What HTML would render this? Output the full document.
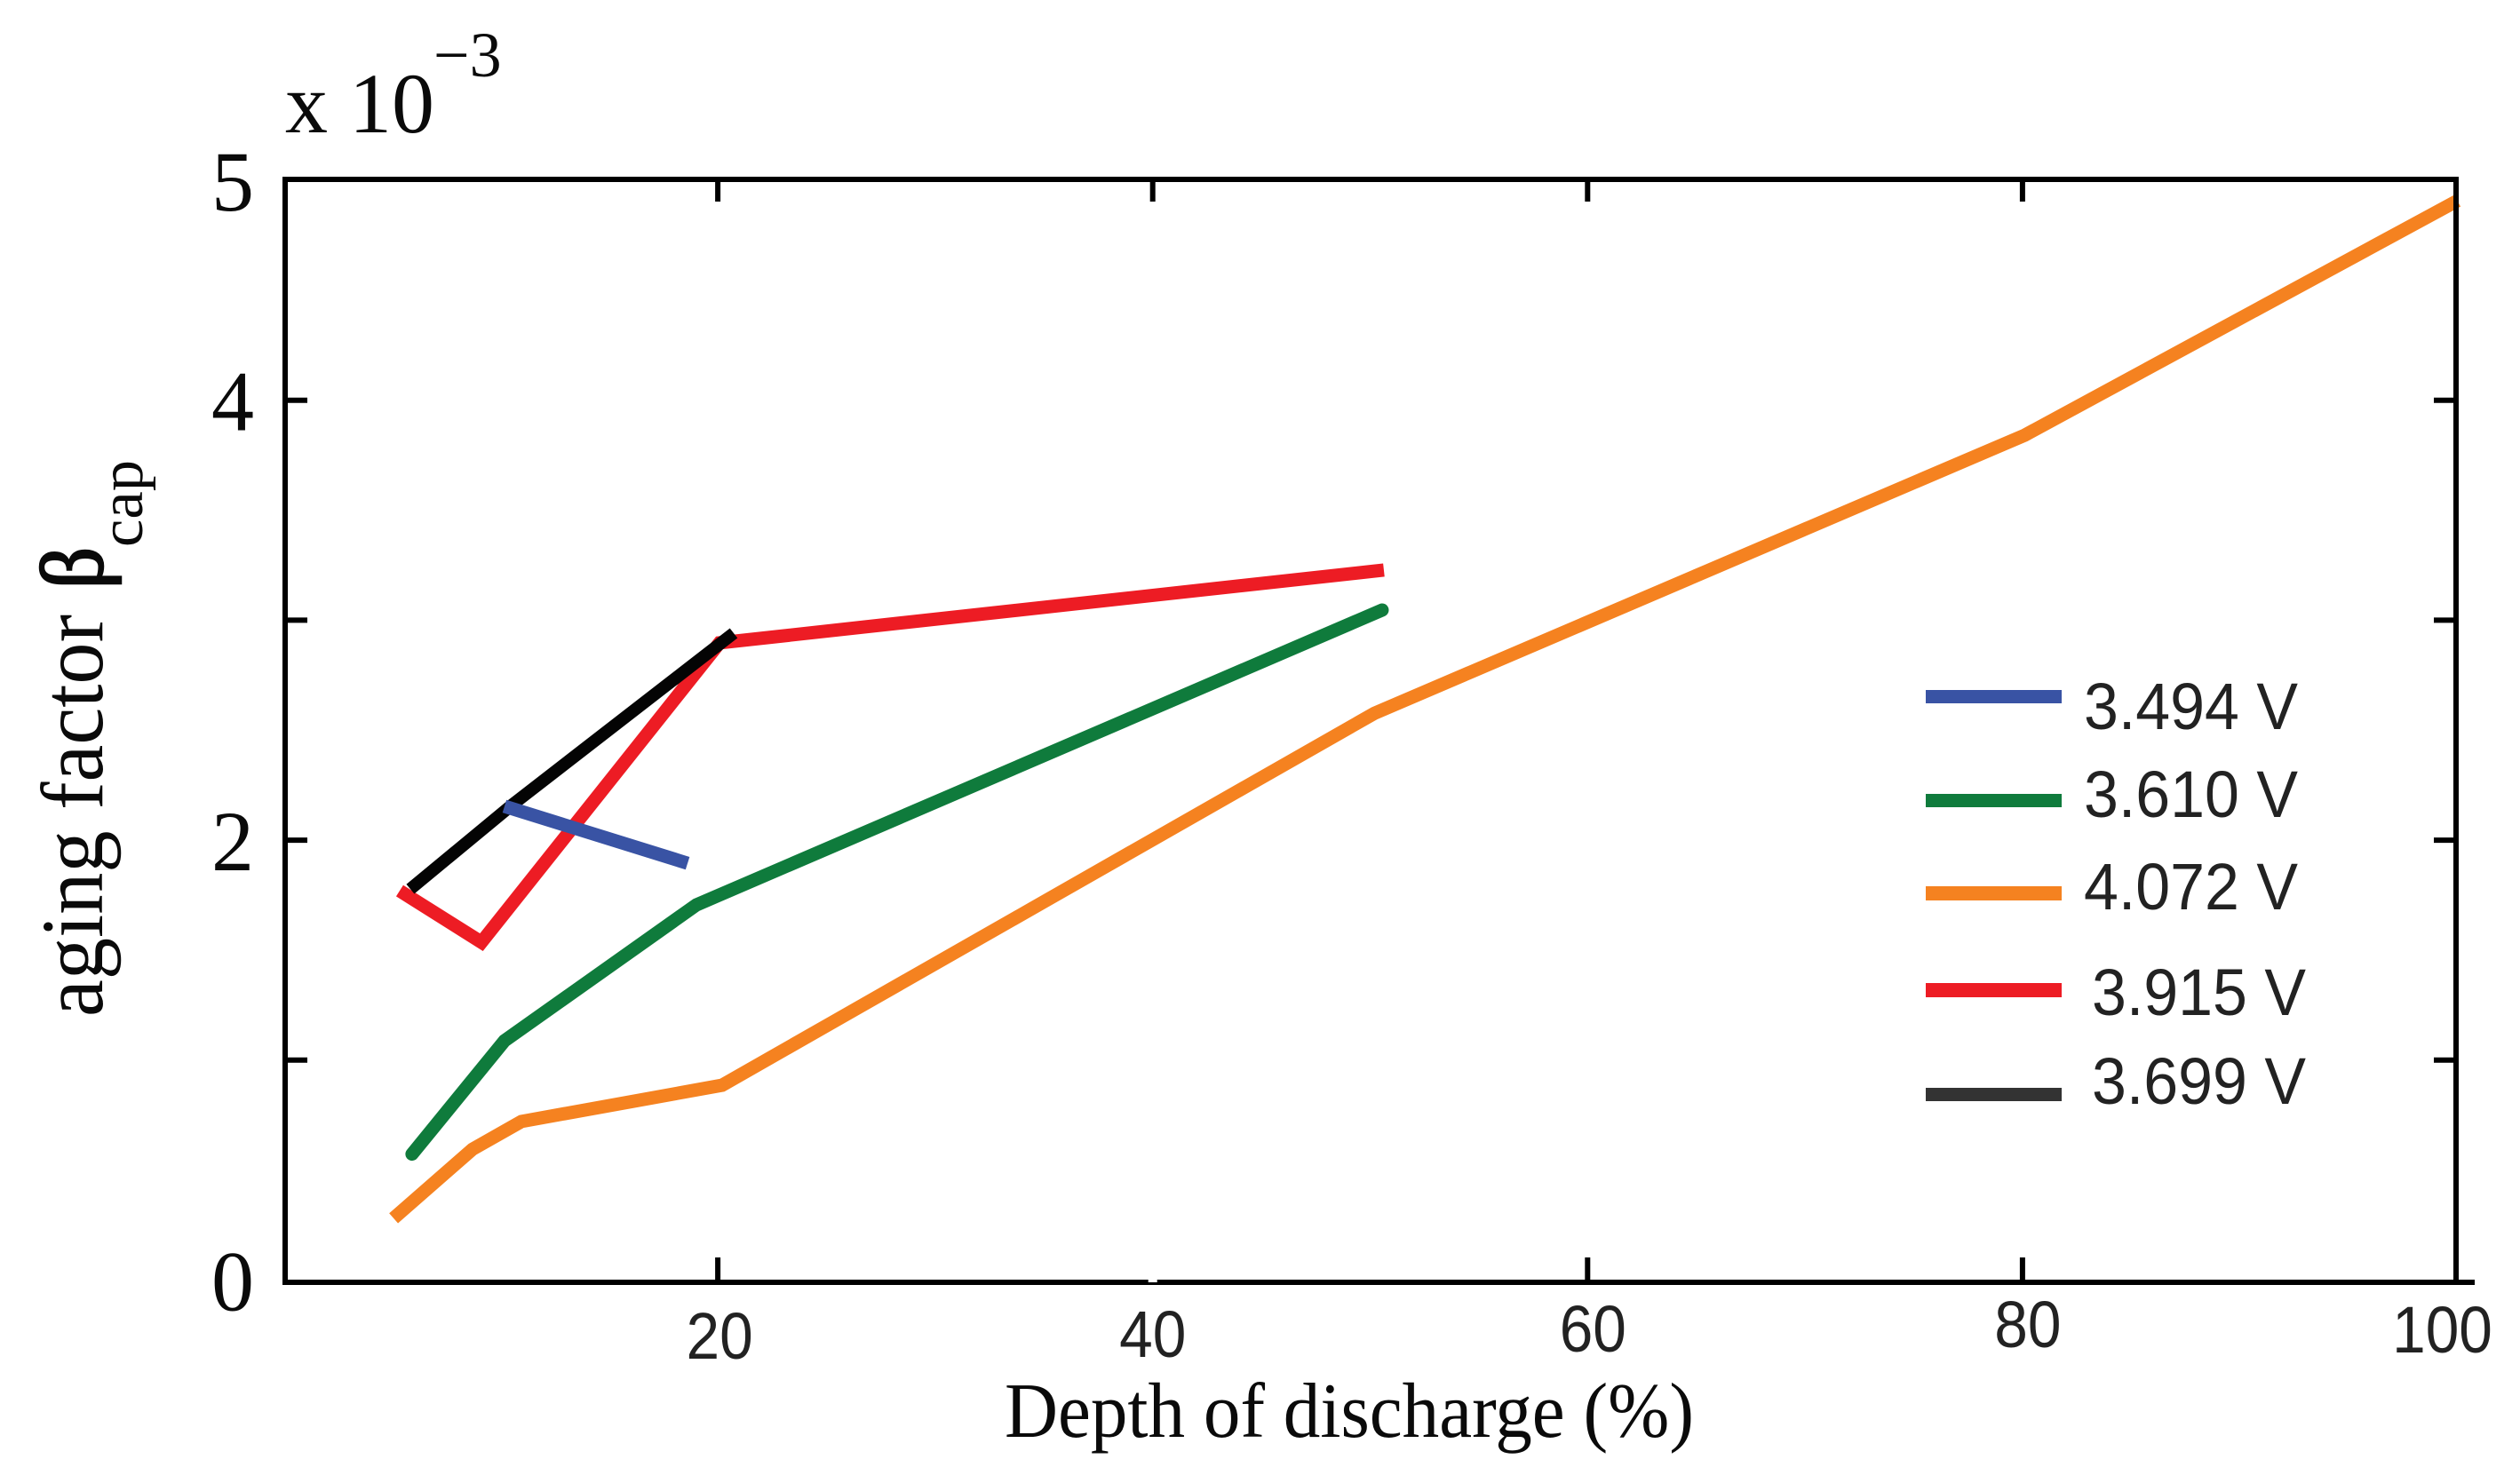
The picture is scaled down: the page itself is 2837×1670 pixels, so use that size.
<!DOCTYPE html>
<html lang="en">
<head>
<meta charset="utf-8">
<title>Aging factor vs depth of discharge</title>
<style>
html,body{margin:0;padding:0;background:#fff;}
svg{display:block;}
.serif{font-family:"Liberation Serif",serif;fill:#0a0a0a;}
.sans{font-family:"Liberation Sans",sans-serif;fill:#222;}
</style>
</head>
<body>
<svg id="chart" xmlns="http://www.w3.org/2000/svg" width="2837" height="1670" viewBox="0 0 2837 1670">
  <rect width="2837" height="1670" fill="#fff"/>
  <g id="series-layer"></g>
  <g id="axes-layer"></g>

  <g>
    <text class="serif" x="321" y="149" font-size="96">x 10</text>
    <text class="serif" x="488" y="86" font-size="72">−3</text>
  </g>

  <g>
    <text class="serif" transform="translate(115,1145) rotate(-90)" font-size="100" textLength="453" lengthAdjust="spacingAndGlyphs">aging factor</text>
    <text class="serif" transform="translate(115,663) rotate(-90)" font-size="100" stroke="#0a0a0a" stroke-width="2.5" textLength="47" lengthAdjust="spacingAndGlyphs">β</text>
    <text class="serif" transform="translate(160,616) rotate(-90)" font-size="70" textLength="98" lengthAdjust="spacingAndGlyphs">cap</text>
  </g>

  <text class="serif" x="1131" y="1618" font-size="88" textLength="776" lengthAdjust="spacingAndGlyphs">Depth of discharge (%)</text>

  <g>
    <g>
      <rect x="2168" y="777" width="153" height="15" fill="#3953a4"/>
      <text class="sans" x="2346" y="821" font-size="74" textLength="241" lengthAdjust="spacingAndGlyphs">3.494 V</text>
    </g>
    <g>
      <rect x="2168" y="894" width="153" height="15" fill="#0f7b3c"/>
      <text class="sans" x="2346" y="920" font-size="74" textLength="241" lengthAdjust="spacingAndGlyphs">3.610 V</text>
    </g>
    <g>
      <rect x="2168" y="998" width="153" height="16" fill="#f58220"/>
      <text class="sans" x="2346" y="1024" font-size="74" textLength="241" lengthAdjust="spacingAndGlyphs">4.072 V</text>
    </g>
    <g>
      <rect x="2168" y="1107" width="153" height="16" fill="#ed1c24"/>
      <text class="sans" x="2355" y="1143" font-size="74" textLength="241" lengthAdjust="spacingAndGlyphs">3.915 V</text>
    </g>
    <g>
      <rect x="2168" y="1225" width="153" height="15" fill="#333333"/>
      <text class="sans" x="2355" y="1243" font-size="74" textLength="241" lengthAdjust="spacingAndGlyphs">3.699 V</text>
    </g>
  </g>
</svg>

<script>
// Chart data
const orangeDod = [5.09, 8.72, 10.97, 20.2, 50.2, 80.1, 100.0];
const orangeBeta = [0.281, 0.595, 0.721, 0.886, 2.577, 3.841, 4.907];
const greenDod = [5.94, 10.19, 19.02, 50.55];
const greenBeta = [0.573, 1.088, 1.706, 3.046];
const redDod = [5.37, 9.13, 20.08, 50.63];
const redBeta = [1.77, 1.536, 2.897, 3.228];
const blackDod = [5.86, 10.56, 20.73];
const blackBeta = [1.778, 2.162, 2.941];
const blueDod = [10.19, 18.61];
const blueBeta = [2.154, 1.895];

const xTickLabels = [20, 40, 60, 80, 100];
const xBottomTicks = [20, 60, 80];
const xTopTicks = [20, 40, 60, 80];
const yTickLabels = [0, 2, 4, 5];
const yTicks = [1, 2, 3, 4];

// Axis functions
function xScale(v) { return 318.5 + 24.48 * v; }
function yScale(v) { return 1441.5 - 247.7 * v; }

const SVG_NS = 'http://www.w3.org/2000/svg';
const axesLayer = document.getElementById('axes-layer');
const seriesLayer = document.getElementById('series-layer');

function make(tag, parent, attrs) {
  const node = document.createElementNS(SVG_NS, tag);
  Object.keys(attrs).forEach(function (k) { node.setAttribute(k, attrs[k]); });
  parent.appendChild(node);
  return node;
}

function drawLine(dod, beta, color, width, cap, name) {
  const pts = dod.map(function (d, i) { return xScale(d) + ',' + yScale(beta[i]); }).join(' ');
  const line = make('polyline', seriesLayer, {
    points: pts, fill: 'none', stroke: color, 'stroke-width': width,
    'stroke-linecap': cap, 'stroke-linejoin': 'miter', 'stroke-miterlimit': 4
  });
  
  
}

drawLine(orangeDod, orangeBeta, '#f58220', 15, 'butt', 'series-4072v');
drawLine(greenDod, greenBeta, '#0f7b3c', 15, 'round', 'series-3610v');
drawLine(redDod, redBeta, '#ed1c24', 15, 'butt', 'series-3915v');
drawLine(blackDod, blackBeta, '#040404', 14, 'butt', 'series-3699v');
drawLine(blueDod, blueBeta, '#3953a4', 15, 'butt', 'series-3494v');

// Frame
const AX_L = 321, AX_R = 2765, AX_T = 202, AX_B = 1444;
const frameLeft = make('line', axesLayer, { x1: AX_L, y1: AX_T - 3, x2: AX_L, y2: AX_B + 3, stroke: '#000', 'stroke-width': 6 });


const frameRight = make('line', axesLayer, { x1: AX_R, y1: AX_T - 3, x2: AX_R, y2: AX_B, stroke: '#000', 'stroke-width': 6 });


const frameTop = make('line', axesLayer, { x1: AX_L - 3, y1: AX_T, x2: AX_R + 3, y2: AX_T, stroke: '#000', 'stroke-width': 6 });


const frameBottom = make('line', axesLayer, { x1: AX_L - 3, y1: AX_B, x2: 2786, y2: AX_B, stroke: '#000', 'stroke-width': 6 });



// Ticks
xBottomTicks.forEach(function (v) {
  const t = make('line', axesLayer, { x1: xScale(v), y1: AX_B, x2: xScale(v), y2: AX_B - 28, stroke: '#000', 'stroke-width': 6 });
  
  
});
xTopTicks.forEach(function (v) {
  const t = make('line', axesLayer, { x1: xScale(v), y1: AX_T, x2: xScale(v), y2: AX_T + 25, stroke: '#000', 'stroke-width': 6 });
  
  
});
yTicks.forEach(function (v) {
  const left = make('line', axesLayer, { x1: AX_L, y1: yScale(v), x2: AX_L + 25, y2: yScale(v), stroke: '#000', 'stroke-width': 6 });
  
  
  const right = make('line', axesLayer, { x1: AX_R, y1: yScale(v), x2: AX_R - 25, y2: yScale(v), stroke: '#000', 'stroke-width': 6 });
  
  
});

// Small white notch on the bottom axis where the 40 tick was erased in the source figure
const notch = make('rect', axesLayer, { x: xScale(40) - 5, y: AX_B - 3, width: 10, height: 3, fill: '#fff' });



// Tick labels: the source labels sit slightly off-grid, so each gets a small label nudge
function labelNudge(v) {
  if (v === 20) return [2, 6];
  if (v === 40) return [0, 4];
  if (v === 60) return [6, -2];
  if (v === 80) return [6, -7];
  if (v === 100) return [-17, -1];
  return [0, 0];
}
xTickLabels.forEach(function (v) {
  const n = labelNudge(v);
  const s = String(v);
  const label = make('text', axesLayer, {
    x: xScale(v) + n[0], y: 1524 + n[1], 'text-anchor': 'middle', 'font-size': 74,
    textLength: s.length * 37.6, lengthAdjust: 'spacingAndGlyphs', 'class': 'sans'
  });
  
  
  label.textContent = s;
});
yTickLabels.forEach(function (v) {
  const label = make('text', axesLayer, {
    x: 262, y: yScale(v) + 34, 'text-anchor': 'middle', 'font-size': 96, 'class': 'serif'
  });
  
  
  label.textContent = String(v);
});
</script>
</body>
</html>
